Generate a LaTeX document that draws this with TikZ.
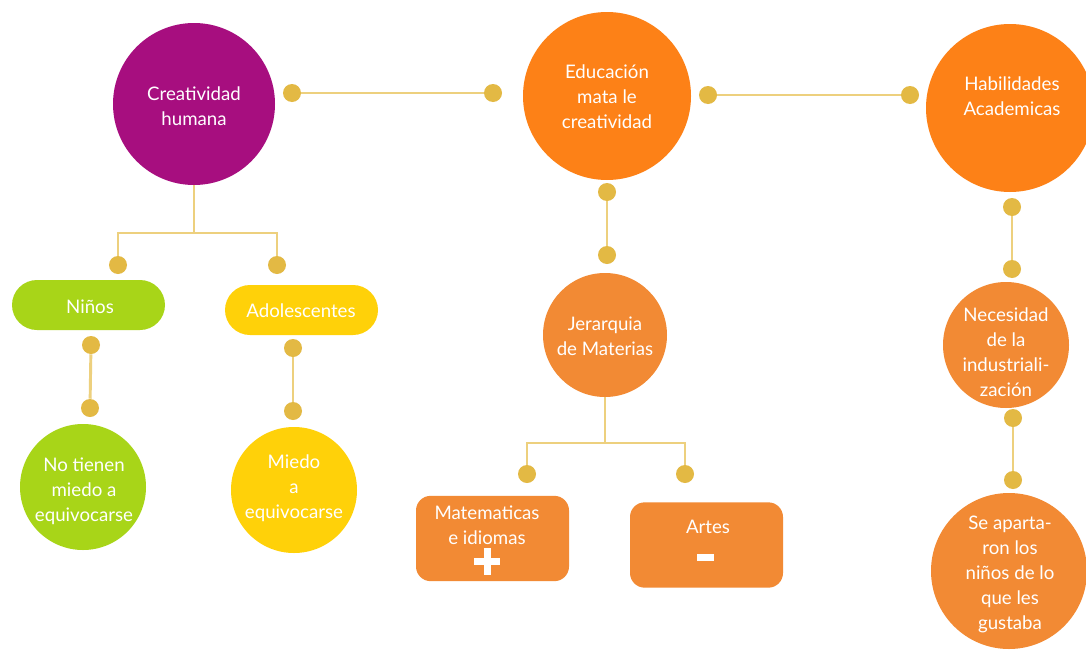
\documentclass[tikz,border=0pt]{standalone}
\usepackage{fontspec}
\setmainfont{Lato}
\begin{document}
\definecolor{purpleC}{HTML}{A70E7F}
\definecolor{orangeA}{HTML}{FD8117}
\definecolor{orangeB}{HTML}{F28A34}
\definecolor{greenC}{HTML}{A8D518}
\definecolor{yellowC}{HTML}{FFD109}
\definecolor{dotC}{HTML}{E3B944}
\definecolor{linkC}{HTML}{EDD07E}
\begin{tikzpicture}[x=0.75pt,y=-0.75pt,
  disc/.style={circle,inner sep=0pt,minimum size=#1},
  pill/.style={rectangle,inner sep=0pt,rounded corners=18.75pt,minimum width=114.75pt,minimum height=37.5pt},
  boxc/.style={rectangle,inner sep=0pt,rounded corners=11pt,minimum width=114.75pt,minimum height=64pt},
  txt/.style={text=white,align=center,inner sep=0pt,font=\fontsize{14}{18.75}\selectfont},
  dotn/.style={circle,fill=dotC,inner sep=0pt,minimum size=13.5pt},
  link/.style={draw=linkC,line width=2.2pt}]
\useasboundingbox (0,0) rectangle (1086,650);
\fill[white] (0,0) rectangle (1086,650);

% main row of circles
\node[disc=121.5pt,fill=purpleC] (crea) at (194,104) {};
\node[disc=126pt,fill=orangeA] (educ) at (607,96) {};
\node[disc=126pt,fill=orangeA] (habi) at (1010,108) {};

% second level
\node[disc=93pt,fill=orangeB] (jera) at (605,335) {};
\node[disc=94.5pt,fill=orangeB] (neces) at (1006,345) {};
\node[disc=117pt,fill=orangeB] (apart) at (1009,571) {};
\node[pill,fill=greenC] (ninos) at (88.5,305) {};
\node[pill,fill=yellowC] (adol) at (301.5,310) {};
\node[disc=94.5pt,fill=greenC] (notien) at (83,487) {};
\node[disc=94.5pt,fill=yellowC] (miedo) at (294,490) {};
\node[boxc,fill=orangeB] (mate) at (492.5,538.5) {};
\node[boxc,fill=orangeB] (artes) at (706.5,545) {};

% labels
\node[txt] (crea-t) at (194,106) {Creatividad\\humana};
\node[txt] (educ-t) at (607,97) {Educación\\mata le\\creatividad};
\node[txt] (habi-t) at (1012,96) {Habilidades\\Academicas};
\node[txt] (jera-t) at (605,336) {Jerarquia\\de Materias};
\node[txt] (neces-t) at (1006,352) {Necesidad\\de la\\industriali-\\zación};
\node[txt] (apart-t) at (1010,574) {Se aparta-\\ron los\\niños de lo\\que les\\gustaba};
\node[txt] (ninos-t) at (90,307) {Niños};
\node[txt] (adol-t) at (301,311) {Adolescentes};
\node[txt] (notien-t) at (84,491) {No tienen\\miedo a\\equivocarse};
\node[txt] (miedo-t) at (294,488) {Miedo\\a\\equivocarse};
\node[txt] (mate-t) at (487,525) {Matematicas\\e idiomas};
\node[txt] (artes-t) at (708,527) {Artes};

% plus and minus marks
\fill[white] (474,558) rectangle (500,565);
\fill[white] (483.5,548) rectangle (490.5,575);
\fill[white] (696.5,553.5) rectangle (713.5,561);

% connector dots
\node[dotn] (d1) at (292,93) {};
\node[dotn] (d2) at (493,93) {};
\node[dotn] (d3) at (708,95) {};
\node[dotn] (d4) at (910,95) {};
\node[dotn] (d5) at (607,192) {};
\node[dotn] (d6) at (607,255) {};
\node[dotn] (d7) at (1012,207) {};
\node[dotn] (d8) at (1012,269) {};
\node[dotn] (d9) at (1013,418) {};
\node[dotn] (d10) at (1013,480) {};
\node[dotn] (d11) at (118,265) {};
\node[dotn] (d12) at (277,265) {};
\node[dotn] (d13) at (91,345) {};
\node[dotn] (d14) at (90,408) {};
\node[dotn] (d15) at (293,348) {};
\node[dotn] (d16) at (293,411) {};
\node[dotn] (d17) at (527,474) {};
\node[dotn] (d18) at (685,474) {};

% branch junctions
\coordinate (j1) at (194,233);
\coordinate (j2) at (605,443);

% connectors
\draw[link] (d1) -- (d2);
\draw[link] (d3) -- (d4);
\draw[link] (d5) -- (d6);
\draw[link] (d7) -- (d8);
\draw[link] (d9) -- (d10);
\draw[link] (d13) -- (d14);
\draw[link] (d15) -- (d16);
\draw[link] (crea.south) -- (j1);
\draw[link] (d11.north) |- (j1) -| (d12.north);
\draw[link] (jera.south) -- (j2);
\draw[link] (d17.north) |- (j2) -| (d18.north);
\end{tikzpicture}
\end{document}
